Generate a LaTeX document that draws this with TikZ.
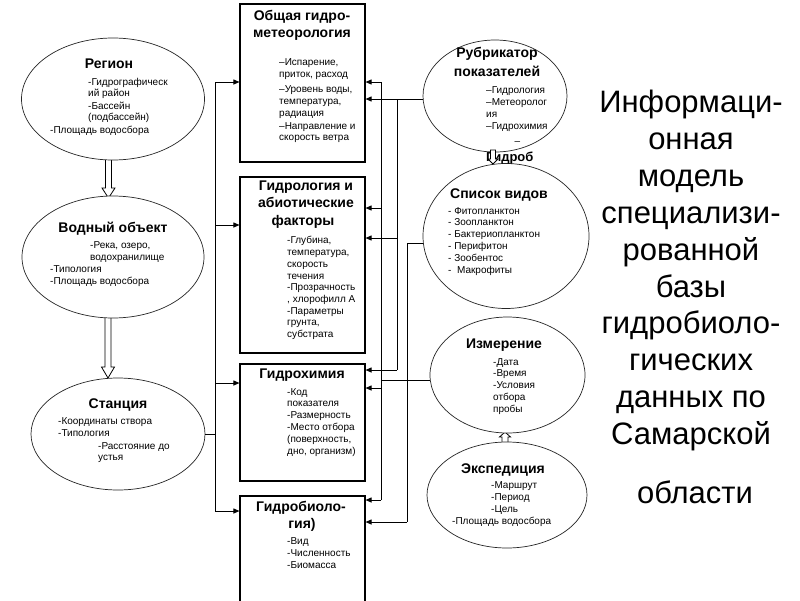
\documentclass[tikz,border=0pt]{standalone}
\usepackage{fontspec}
\setmainfont{Liberation Sans}
\usetikzlibrary{shapes.geometric,arrows.meta}
\tikzset{
 ell/.style={ellipse, draw=black!85, line width=0.7pt, fill=white, inner sep=0pt},
 box/.style={rectangle, draw=black, line width=1.1pt, fill=white, inner sep=0pt},
 ttl/.style={font=\bfseries\fontsize{14}{17}\selectfont, inner sep=0pt, anchor=base},
 txt/.style={font=\fontsize{10}{12}\selectfont, inner sep=0pt, anchor=base west},
 conn/.style={line width=0.9pt},
 arr/.style={conn, -{Triangle[length=6pt,width=5pt]}},
 big/.style={font=\fontsize{31}{37}\selectfont, inner sep=0pt, anchor=base},
}
\newcommand\txtat[3]{\foreach \ly/\lt [count=\lk] in {#3} {\node[txt] (#1-\lk) at (#2,\ly) {\lt};}}
\newcommand\hollowv[6]{%
  \pgfmathsetmacro\hvs{(#3>#2)?1:-1}%
  \pgfmathsetmacro\hvb{#3-\hvs*#6}%
  \filldraw[fill=white, draw=black, line width=0.8pt, line join=miter]
    (#1-#4,#2) -- (#1+#4,#2) -- (#1+#4,\hvb) -- (#1+#5,\hvb) -- (#1,#3) -- (#1-#5,\hvb) -- (#1-#4,\hvb) -- cycle;}
\begin{document}
\begin{tikzpicture}[x=1pt,y=-1pt]
\useasboundingbox (0,0) rectangle (800,600);
\clip (0,0) rectangle (800,600);
\fill[white] (0,0) rectangle (800,600);

% hollow arrows on the left (drawn under the ellipses)
\hollowv{108.5}{150}{198}{3}{6.5}{10}
\hollowv{108}{310}{378}{3}{6.5}{11}
\hollowv{505}{450}{432}{3}{5.5}{5}

% left ellipses
\node[ell, minimum width=183pt, minimum height=122pt] (reg) at (113,99) {};
\node[ttl] (reg-t) at (109,68) {Регион};
\txtat{regA}{88}{85.5/{-Гидрографическ}, 96.5/{ий район}, 109.5/{-Бассейн}, 120.5/{(подбассейн)}}
\txtat{regB}{50}{133.5/{-Площадь водосбора}}

\node[ell, minimum width=182pt, minimum height=122pt] (vod) at (113,257) {};
\node[ttl] (vod-t) at (113,232) {Водный объект};
\txtat{vodA}{90}{248.5/{-Река, озеро,}, 260.5/{водохранилище}}
\txtat{vodB}{50}{272.5/{-Типология}, 284.5/{-Площадь водосбора}}

\node[ell, minimum width=174pt, minimum height=112pt] (st) at (118,434) {};
\node[ttl] (st-t) at (118,408) {Станция};
\txtat{stA}{58}{424.5/{-Координаты створа}, 436.5/{-Типология}}
\txtat{stB}{98}{449.5/{-Расстояние до}, 460.5/{устья}}

% boxes
\node[box, minimum width=125pt, minimum height=158pt] (b1) at (302.5,83) {};
\node[ttl] (b1-t1) at (302,20) {Общая гидро-};
\node[ttl] (b1-t2) at (302,37) {метеорология};
\txtat{b1x}{279}{65.5/{–Испарение,}, 77.5/{приток, расход}, 92.5/{–Уровень воды,}, 104.5/{температура,}, 116.5/{радиация}, 129.5/{–Направление и}, 140.5/{скорость ветра}}

\node[box, minimum width=125pt, minimum height=176pt] (b2) at (302.5,265) {};
\node[ttl] (b2-t1) at (306,190) {Гидрология и};
\node[ttl] (b2-t2) at (306,207.5) {абиотические};
\node[ttl] (b2-t3) at (303,225) {факторы};
\txtat{b2x}{287}{243.5/{-Глубина,}, 255.5/{температура,}, 267.5/{скорость}, 279.5/{течения}, 290.5/{-Прозрачность}, 302.5/{, хлорофилл А}, 314.5/{-Параметры}, 325.5/{грунта,}, 337.5/{субстрата}}

\node[box, minimum width=125pt, minimum height=117pt] (b3) at (302.5,422.5) {};
\node[ttl] (b3-t) at (302,378) {Гидрохимия};
\txtat{b3x}{287}{395.5/{-Код}, 406.5/{показателя}, 418.5/{-Размерность}, 430.5/{-Место отбора}, 442.5/{(поверхность,}, 454.5/{дно, организм)}}

\node[box, minimum width=125pt, minimum height=116pt] (b4) at (302.5,554) {};
\node[ttl] (b4-t1) at (301,511) {Гидробиоло-};
\node[ttl] (b4-t2) at (302,528) {гия)};
\txtat{b4x}{287}{544.5/{-Вид}, 556.5/{-Численность}, 568.5/{-Биомасса}}

% right ellipses
\node[ell, minimum width=144pt, minimum height=112pt] (rub) at (495,96) {};
\node[ttl] (rub-t1) at (497,57) {Рубрикатор};
\node[ttl] (rub-t2) at (497,76) {показателей};
\txtat{rubx}{486}{93.5/{–Гидрология}, 105.5/{–Метеоролог}, 117.5/{ия}, 129.5/{–Гидрохимия}}
\node[txt, anchor=center] (rub-d) at (517.5,143) {–};

\node[ell, minimum width=166pt, minimum height=145pt] (spis) at (506,236) {};
\node[ttl, anchor=base west, font=\bfseries\fontsize{13}{15}\selectfont] (rub-g) at (486,161) {Гидроб};
\node[ttl] (spis-t) at (499,198) {Список видов};
\txtat{spisx}{448}{214.5/{- Фитопланктон}, 225.5/{- Зоопланктон}, 237.5/{- Бактериопланктон}, 249.5/{- Перифитон}, 261.5/{- Зообентос}, 273.5/{-\ \ Макрофиты}}
\hollowv{493}{150}{164}{2.5}{5}{5}

\node[ell, minimum width=155pt, minimum height=116pt] (izm) at (507.5,375) {};
\node[ttl] (izm-t) at (504,348) {Измерение};
\txtat{izmx}{493}{365.5/{-Дата}, 376.5/{-Время}, 388.5/{-Условия}, 400.5/{отбора}, 412.5/{пробы}}

\node[ell, minimum width=160pt, minimum height=106pt] (exp) at (507,495) {};
\node[ttl] (exp-t) at (503,473) {Экспедиция};
\txtat{expA}{491}{488.5/{-Маршрут}, 500.5/{-Период}, 512.5/{-Цель}}
\txtat{expB}{452}{524.5/{-Площадь водосбора}}

% left bus
\coordinate (L1) at (215,82);
\coordinate (L2) at (215,225);
\coordinate (L3) at (215,383);
\coordinate (L4) at (215,511);
\draw[conn] (L1) -- (L4);
\draw[conn] (st.east) -- (st.east -| L1);
\draw[arr] (L1) -- (b1.west |- L1);
\draw[arr] (L2) -- (b2.west |- L2);
\draw[arr] (L3) -- (b3.west |- L3);
\draw[arr] (L4) -- (b4.west |- L4);

% Rubrikator bus
\coordinate (R1) at (397,99);
\coordinate (R2) at (397,238);
\coordinate (R3) at (397,370);
\draw[arr] (rub.west |- R1) -- (b1.east |- R1);
\draw[conn] (R1) -- (R3);
\draw[arr] (R2) -- (b2.east |- R2);
\draw[arr] (R3) -- (b3.east |- R3);

% Izmerenie bus
\coordinate (M0) at (381,380);
\coordinate (M1) at (381,82);
\coordinate (M2) at (381,208);
\coordinate (M3) at (381,388);
\coordinate (M4) at (381,500);
\draw[conn] (izm.west |- M0) -- (M0);
\draw[conn] (M1) -- (M4);
\draw[arr] (M1) -- (b1.east |- M1);
\draw[arr] (M2) -- (b2.east |- M2);
\draw[arr] (M3) -- (b3.east |- M3);
\draw[arr] (M4) -- (b4.east |- M4);

% Spisok bus
\coordinate (S0) at (407,243);
\coordinate (S4) at (407,522);
\draw[conn] (spis.west |- S0) -- (S0) -- (S4);
\draw[arr] (S4) -- (b4.east |- S4);

% big title
\foreach \bt [count=\bk] in {Информаци-, онная, модель, специализи-, рованной, базы, гидробиоло-, гических, данных по, Самарской}
  {\node[big] (title-\bk) at (691,{112.5+(\bk-1)*36.9}) {\bt};}
\node[big] (title-last) at (695,503) {области};
\end{tikzpicture}
\end{document}
